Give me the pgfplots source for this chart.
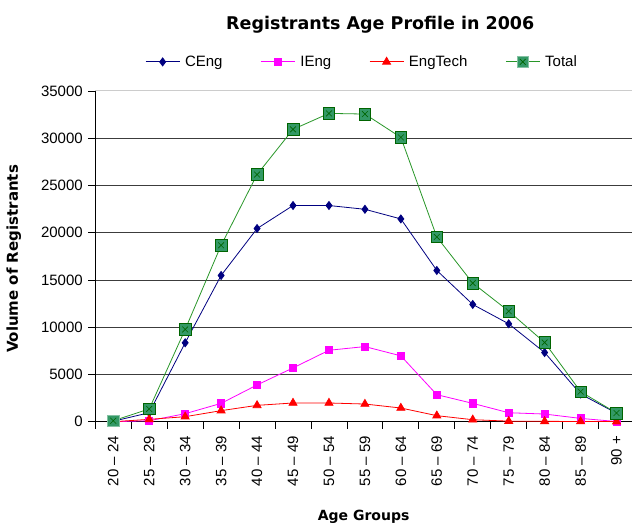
\documentclass[border=0pt]{standalone}
\usepackage{fontspec}
\setmainfont{Liberation Sans}
\newfontfamily\comicfont{DejaVu Sans}
\usepackage{pgfplots}
\pgfplotsset{compat=1.18}
\definecolor{ceng}{RGB}{0,0,128}
\definecolor{ieng}{RGB}{255,0,255}
\definecolor{etech}{RGB}{255,0,0}
\definecolor{totline}{RGB}{40,150,40}
\definecolor{totfill}{RGB}{51,153,102}
\definecolor{totx}{RGB}{0,100,0}
\definecolor{gridc}{RGB}{60,60,60}
\pgfdeclareplotmark{sqx}{%
 \pgfpathrectangle{\pgfpoint{-\pgfplotmarksize}{-\pgfplotmarksize}}{\pgfpoint{2\pgfplotmarksize}{2\pgfplotmarksize}}%
 \pgfusepathqfillstroke
 \pgfsetstrokecolor{totx}%
 \pgfpathmoveto{\pgfpoint{-0.5\pgfplotmarksize}{-0.5\pgfplotmarksize}}%
 \pgfpathlineto{\pgfpoint{0.5\pgfplotmarksize}{0.5\pgfplotmarksize}}%
 \pgfpathmoveto{\pgfpoint{-0.5\pgfplotmarksize}{0.5\pgfplotmarksize}}%
 \pgfpathlineto{\pgfpoint{0.5\pgfplotmarksize}{-0.5\pgfplotmarksize}}%
 \pgfusepathqstroke
}
\pgfplotstableread{
x CEng IEng EngTech Total
0 50 0 0 100
1 950 100 250 1350
2 8350 850 530 9760
3 15480 1940 1170 18670
4 20440 3890 1730 26160
5 22880 5690 1980 30940
6 22880 7560 1980 32630
7 22480 7950 1870 32560
8 21460 6970 1450 30090
9 16010 2860 640 19550
10 12410 1940 210 14670
11 10360 950 60 11700
12 7320 810 40 8380
13 2930 350 20 3180
14 900 20 10 920
}\datatable
\begin{document}
\begin{tikzpicture}
\useasboundingbox (-95.3bp,-105.3bp) rectangle (536.7bp,421.7bp);
\begin{axis}[
 at={(0,0)}, anchor=south west, scale only axis,
 width=536.7bp, height=330.7bp,
 xmin=-0.5, xmax=14.43, ymin=0, ymax=35000,
 axis lines*=left,
 axis line style={black, line width=0.8bp},
 clip=false,
 font=\fontsize{15bp}{18bp}\selectfont,
 /pgf/number format/assume math mode=true,
 /pgf/number format/1000 sep={},
 scaled y ticks=false,
 ytick={0,5000,...,30000},
 extra y ticks={35000},
 extra y tick style={grid style={gray!40, line width=1bp}},
 ymajorgrids,
 grid style={gridc, line width=0.9bp},
 tick align=outside,
 major tick length=7bp,
 tick style={black, line width=0.8bp},
 xtick={-0.5,0.5,...,13.5},
 xticklabels={,,,,,,,,,,,,,,,},
 extra x ticks={0,...,14},
 extra x tick labels={20 – 24,25 – 29,30 – 34,35 – 39,40 – 44,45 – 49,50 – 54,55 – 59,60 – 64,65 – 69,70 – 74,75 – 79,80 – 84,85 – 89,90 +},
 extra x tick style={major tick length=0pt, xticklabel style={yshift=-11bp, rotate=90, anchor=east}},
 yticklabel style={xshift=-2bp},
 title={Registrants Age Profile in 2006},
 title style={font=\comicfont\bfseries\fontsize{17.5bp}{21bp}\selectfont, at={(axis description cs:0.531,1.182)}, anchor=center},
 xlabel={Age Groups},
 xlabel style={font=\comicfont\bfseries\fontsize{14bp}{17bp}\selectfont, at={(axis description cs:0.5,-0.289)}, anchor=center},
 ylabel={Volume of Registrants},
 ylabel style={font=\comicfont\bfseries\fontsize{15bp}{18bp}\selectfont, at={(axis description cs:-0.152,0.492)}, anchor=center},
 legend columns=4,
 legend style={at={(axis description cs:0.497,1.088)}, anchor=center, draw=none, fill=none,
   font=\fontsize{15bp}{18bp}\selectfont,
   /tikz/every odd column/.append style={column sep=3bp},
   /tikz/every even column/.append style={column sep=36bp}},
 legend cell align=left,
 legend image code/.code={\draw[mark repeat=2,mark phase=2] plot coordinates {(0bp,0bp) (17bp,0bp) (34bp,0bp)};},
]
\addplot[ceng, line width=0.8bp, mark=diamond*, mark size=4bp] table[x=x,y=CEng] {\datatable};
\addlegendentry{CEng}
\addplot[ieng, line width=0.8bp, mark=square*, mark size=3.6bp] table[x=x,y=IEng] {\datatable};
\addlegendentry{IEng}
\addplot[etech, line width=0.8bp, mark=triangle*, mark size=4.6bp] table[x=x,y=EngTech] {\datatable};
\addlegendentry{EngTech}
\addplot[totline, line width=0.8bp, mark=sqx, mark size=5.8bp, mark options={fill=totfill, draw=totfill!60!white, line width=0.6bp}] table[x=x,y=Total] {\datatable};
\addlegendentry{Total}
\end{axis}
\end{tikzpicture}
\end{document}
